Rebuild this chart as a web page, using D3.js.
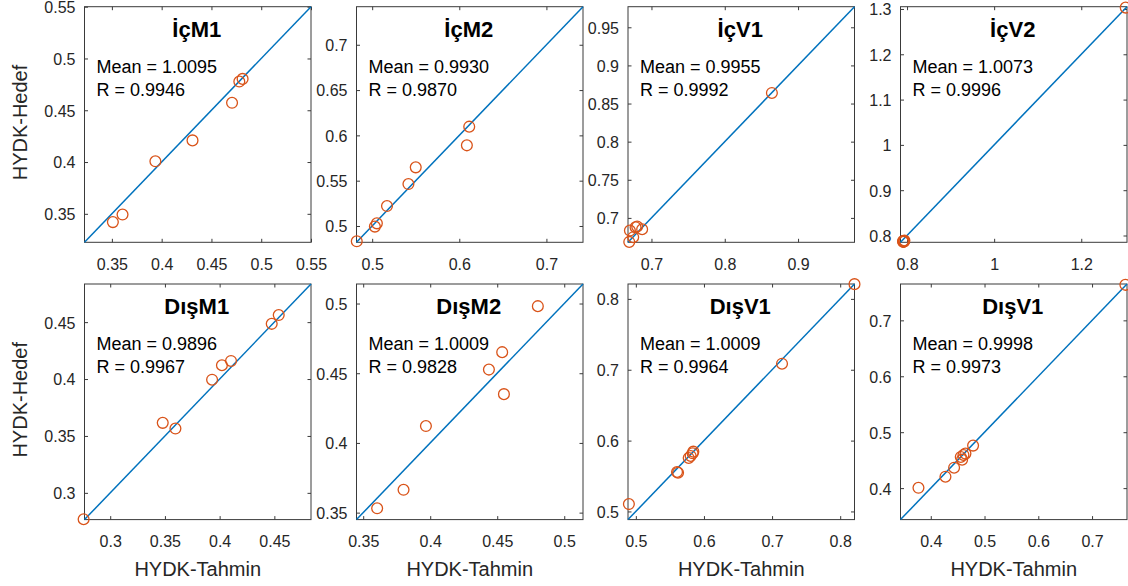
<!DOCTYPE html>
<html>
<head>
<meta charset="utf-8">
<script src="https://cdn.jsdelivr.net/npm/d3@7"></script>
<style>
  body { margin: 0; background: #fff; }
  svg text { font-family: "Liberation Sans", Arial, Helvetica, sans-serif; }
</style>
</head>
<body>
<div id="chart"></div>
<script>
// panel titles and stats text
const panelTitles = ['İçM1', 'İçM2', 'İçV1', 'İçV2', 'DışM1', 'DışM2', 'DışV1', 'DışV1'];
const meanValues = ['1.0095', '0.9930', '0.9955', '1.0073', '0.9896', '1.0009', '1.0009', '0.9998'];
const rValues = ['0.9946', '0.9870', '0.9992', '0.9996', '0.9967', '0.9828', '0.9964', '0.9973'];

// same limits on both axes
const axisLimits = [
    [0.3225, 0.55], [0.482, 0.742], [0.668, 0.977], [0.785, 1.305],
    [0.2765, 0.4835], [0.345, 0.514], [0.4885, 0.821], [0.3437, 0.765]
];
const xTicks = [
    [0.35, 0.4, 0.45, 0.5, 0.55], [0.5, 0.6, 0.7], [0.7, 0.8, 0.9], [0.8, 1, 1.2],
    [0.3, 0.35, 0.4, 0.45], [0.35, 0.4, 0.45, 0.5], [0.5, 0.6, 0.7, 0.8], [0.4, 0.5, 0.6, 0.7]
];
const yTicks = [
    [0.35, 0.4, 0.45, 0.5, 0.55], [0.5, 0.55, 0.6, 0.65, 0.7], [0.7, 0.75, 0.8, 0.85, 0.9, 0.95],
    [0.8, 0.9, 1, 1.1, 1.2, 1.3], [0.3, 0.35, 0.4, 0.45], [0.35, 0.4, 0.45, 0.5],
    [0.5, 0.6, 0.7, 0.8], [0.4, 0.5, 0.6, 0.7]
];

// HYDK-Tahmin (x) and HYDK-Hedef (y)
const tahmin = [
    [0.351, 0.3607, 0.3937, 0.431, 0.4707, 0.478, 0.4813],
    [0.4823, 0.5031, 0.5054, 0.517, 0.5416, 0.550, 0.6087, 0.6114],
    [0.6697, 0.6706, 0.6751, 0.6783, 0.6805, 0.6873, 0.8643],
    [0.791, 0.793, 0.792, 0.794, 0.792, 0.793, 0.791, 1.302],
    [0.2757, 0.348, 0.3596, 0.3931, 0.4021, 0.4104, 0.4476, 0.454],
    [0.3604, 0.3801, 0.3968, 0.4438, 0.4537, 0.455, 0.4803],
    [0.4898, 0.5605, 0.562, 0.5776, 0.5805, 0.5834, 0.5844, 0.7146, 0.821],
    [0.3771, 0.4273, 0.4434, 0.4558, 0.4583, 0.4608, 0.4645, 0.4787, 0.762]
];
const hedef = [
    [0.342, 0.3493, 0.4007, 0.4209, 0.4572, 0.4777, 0.4803],
    [0.4831, 0.4993, 0.5029, 0.522, 0.5463, 0.5647, 0.589, 0.6096],
    [0.6685, 0.6834, 0.6747, 0.6878, 0.6886, 0.6851, 0.8639],
    [0.786, 0.788, 0.787, 0.789, 0.786, 0.787, 0.788, 1.303],
    [0.2768, 0.3615, 0.3565, 0.3994, 0.4121, 0.4159, 0.4485, 0.4562],
    [0.3531, 0.3664, 0.4121, 0.4526, 0.4651, 0.435, 0.4981],
    [0.5104, 0.5557, 0.5547, 0.5755, 0.5783, 0.5821, 0.5844, 0.7085, 0.8208],
    [0.4006, 0.4204, 0.4365, 0.4557, 0.4509, 0.4593, 0.4617, 0.476, 0.7635]
];

const xLabel = 'HYDK-Tahmin';
const yLabel = 'HYDK-Hedef';

const W = 1128, H = 586;
const colLeft = [84.5, 356.5, 628, 900.5];
const rowTop = [6.7, 284];
const boxW = 226.5, boxH = 235.6;
const tickLen = 3.5;
const axisColor = '#262626';

const svg = d3.select('#chart').append('svg')
    .attr('width', W)
    .attr('height', H);

svg.append('rect').attr('width', W).attr('height', H).attr('fill', '#fff');

panelTitles.forEach((title, i) => {
    const col = i % 4, row = Math.floor(i / 4);
    const g = svg.append('g')
        .attr('transform', `translate(${colLeft[col]},${rowTop[row]})`);

    const lim = axisLimits[i];
    const x = d3.scaleLinear().domain(lim).range([0, boxW]);
    const y = d3.scaleLinear().domain(lim).range([boxH, 0]);

    // axes with inward ticks on all four sides
    const fmt = d => String(d);
    const bottom = g.append('g').attr('transform', `translate(0,${boxH})`)
        .call(d3.axisBottom(x).tickValues(xTicks[i]).tickSize(-tickLen).tickPadding(16).tickFormat(fmt));
    const top = g.append('g')
        .call(d3.axisTop(x).tickValues(xTicks[i]).tickSize(-tickLen).tickFormat(''));
    const left = g.append('g')
        .call(d3.axisLeft(y).tickValues(yTicks[i]).tickSize(-tickLen).tickPadding(9).tickFormat(fmt));
    const right = g.append('g').attr('transform', `translate(${boxW},0)`)
        .call(d3.axisRight(y).tickValues(yTicks[i]).tickSize(-tickLen).tickFormat(''));

    [bottom, top, left, right].forEach(a => {
        a.select('.domain').remove();
        a.selectAll('line').attr('stroke', '#3a3a3a').attr('stroke-width', 1);
        a.selectAll('text')
            .attr('fill', axisColor)
            .style('font-size', '16px')
            .style('font-family', '"Liberation Sans", Arial, sans-serif');
    });
    left.selectAll('text').attr('dy', '0.37em');

    g.append('rect')
        .attr('width', boxW)
        .attr('height', boxH)
        .attr('fill', 'none')
        .attr('stroke', '#3a3a3a')
        .attr('stroke-width', 1);

    // 1:1 line
    g.append('line')
        .attr('x1', x(lim[0])).attr('y1', y(lim[0]))
        .attr('x2', x(lim[1])).attr('y2', y(lim[1]))
        .attr('stroke', '#0072BD')
        .attr('stroke-width', 1.5);

    g.selectAll('circle.pt')
        .data(tahmin[i].map((v, k) => [v, hedef[i][k]]))
        .join('circle')
        .attr('class', 'pt')
        .attr('cx', d => x(d[0]))
        .attr('cy', d => y(d[1]))
        .attr('r', 5.4)
        .attr('fill', 'none')
        .attr('stroke', '#D95319')
        .attr('stroke-width', 1.3);

    g.append('text')
        .attr('x', boxW / 2 - 1)
        .attr('y', 30)
        .attr('text-anchor', 'middle')
        .style('font-size', '22px')
        .style('font-weight', 'bold')
        .text(title);

    g.append('text')
        .attr('x', 12)
        .attr('y', 66)
        .style('font-size', '18px')
        .text(`Mean = ${meanValues[i]}`);

    g.append('text')
        .attr('x', 12)
        .attr('y', 89)
        .style('font-size', '18px')
        .text(`R = ${rValues[i]}`);

    if (col === 0) {
        g.append('text')
            .attr('transform', `translate(${27 - colLeft[0]},${boxH / 2 - 2}) rotate(-90)`)
            .attr('text-anchor', 'middle')
            .attr('fill', axisColor)
            .style('font-size', '20px')
            .text(yLabel);
    }
    if (row === 1) {
        g.append('text')
            .attr('x', boxW / 2)
            .attr('y', boxH + 56)
            .attr('text-anchor', 'middle')
            .attr('fill', axisColor)
            .style('font-size', '20px')
            .text(xLabel);
    }
});
</script>
</body>
</html>
